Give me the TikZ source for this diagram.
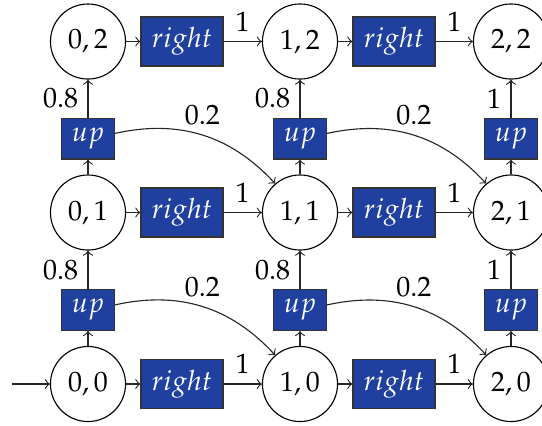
\documentclass[tikz,border=0pt]{standalone}
\usepackage{mathpazo}
\definecolor{actblue}{RGB}{32,64,160}
\begin{document}
\begin{tikzpicture}[x=0.357pt,y=-0.357pt,
  state/.style={circle,draw,minimum size=26.8pt,inner sep=0pt},
  act/.style={draw=black!80,fill=actblue,text=white,inner sep=0pt},
  rightact/.style={act,minimum width=29.3pt,minimum height=17.5pt},
  upact/.style={act,minimum width=18.9pt,minimum height=14.6pt},
  tr/.style={->,draw=black!85}]
\useasboundingbox (0,0) rectangle (542,425);
% states
\foreach \i/\x in {0/88,1/300,2/511}
  \foreach \j/\y in {0/384,1/212.5,2/41.5}
    \node[state] (s\i\j) at (\x,\y) {$\i,\j$};
% "right" actions
\foreach \i/\x in {0/182,1/394}
  \foreach \j/\y in {0/384,1/212.5,2/41.5}
    \node[rightact] (r\i\j) at (\x,\y) {$right$};
% "up" actions
\foreach \i/\x in {0/88,1/300,2/511}
  \foreach \j/\y in {0/310,1/138.5}
    \node[upact] (u\i\j) at (\x,\y) {$up$};
% initial arrow
\coordinate (start) at (12,384);
\draw[tr] (start) -- (s00);
% right transitions
\foreach \i in {0,1}
  \foreach \j in {0,1,2}{
    \pgfmathtruncatemacro{\ni}{\i+1}
    \draw[tr] (s\i\j) -- (r\i\j);
    \draw[tr] (r\i\j) -- node[above]{$1$} (s\ni\j);
  }
% up transitions
\foreach \i in {0,1}
  \foreach \j in {0,1}{
    \pgfmathtruncatemacro{\ni}{\i+1}
    \pgfmathtruncatemacro{\nj}{\j+1}
    \draw[tr] (s\i\j) -- (u\i\j);
    \draw[tr] (u\i\j) -- node[left]{$0.8$} (s\i\nj);
    \draw[tr] (u\i\j) to[bend left=30] node[above]{$0.2$} (s\ni\j);
  }
\foreach \j in {0,1}{
  \pgfmathtruncatemacro{\nj}{\j+1}
  \draw[tr] (s2\j) -- (u2\j);
  \draw[tr] (u2\j) -- node[left]{$1$} (s2\nj);
}
\end{tikzpicture}
\end{document}
